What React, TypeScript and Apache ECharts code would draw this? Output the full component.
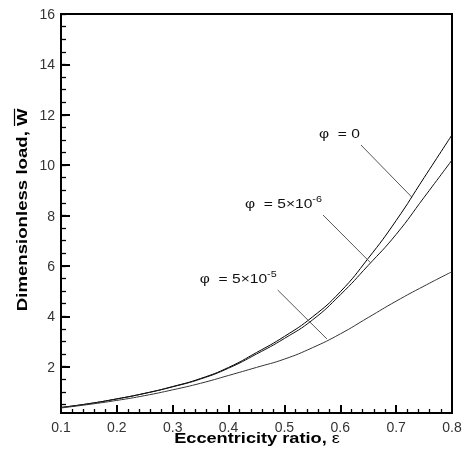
import React, { useEffect, useRef } from 'react';
import * as echarts from 'echarts';

// ---- data ----
const epsilon = [0.1, 0.15, 0.2, 0.25, 0.3, 0.35, 0.4, 0.45, 0.5, 0.55, 0.6, 0.65, 0.7, 0.75, 0.8];
const loadPhi0 = [0.38, 0.53, 0.72, 0.94, 1.21, 1.53, 1.97, 2.56, 3.2, 3.97, 4.97, 6.3, 7.8, 9.5, 11.2];
const loadPhi5e6 = [0.38, 0.53, 0.72, 0.94, 1.2, 1.51, 1.94, 2.5, 3.12, 3.85, 4.85, 6.02, 7.25, 8.72, 10.2];
const loadPhi5e5 = [0.36, 0.5, 0.66, 0.85, 1.08, 1.34, 1.65, 1.97, 2.3, 2.75, 3.3, 3.95, 4.6, 5.2, 5.77];

const yMajorTicks = [2, 4, 6, 8, 10, 12, 14, 16];
const yMinorTicks = [0.5, 1, 1.5, 2, 2.5, 3, 3.5, 4, 4.5, 5, 5.5, 6, 6.5, 7, 7.5, 8, 8.5, 9, 9.5, 10, 10.5, 11, 11.5, 12, 12.5, 13, 13.5, 14, 14.5, 15, 15.5, 16];

// leader lines (data coordinates): [label end, curve end]
const leaderPhi0 = [[0.637, 10.8], [0.728, 8.73]];
const leaderPhi5e6 = [[0.569, 8.02], [0.654, 6.13]];
const leaderPhi5e5 = [[0.488, 5.04], [0.576, 3.1]];

const labelPhi0 = { main: 'φ  = 0', sup: '' };
const labelPhi5e6 = { main: 'φ  = 5×10', sup: '-6' };
const labelPhi5e5 = { main: 'φ  = 5×10', sup: '-5' };

const FONT = '"Liberation Sans", Arial, sans-serif';

export default function App() {
  const ref = useRef<HTMLDivElement>(null);
  useEffect(() => {
    const chart = echarts.init(ref.current!, null, { renderer: 'svg' });
    const pts = (vals: number[]) => epsilon.map((x, i) => [x, vals[i]]);
    const leader = (l: number[][]) => ({
      silent: true,
      symbol: ['none', 'none'],
      label: { show: false },
      lineStyle: { color: '#555', width: 1, type: 'solid' },
      data: [[{ coord: l[0] }, { coord: l[1] }]],
    });
    const lineSeries = (name: string, vals: number[], color: string, l: number[][]) => ({
      name,
      type: 'line',
      data: pts(vals),
      smooth: true,
      showSymbol: false,
      symbol: 'none',
      lineStyle: { color, width: 1 },
      markLine: leader(l),
      z: 3,
    });

    chart.setOption({
      animation: false,
      textStyle: { fontFamily: FONT },
      grid: { left: 61, right: 16, top: 14, bottom: 42, show: true, borderColor: '#000', borderWidth: 2 },
      xAxis: {
        type: 'value',
        min: 0.1,
        max: 0.8,
        interval: 0.1,
        axisLine: { show: true, lineStyle: { color: '#000', width: 2 } },
        axisTick: { show: true, inside: true, length: 8, lineStyle: { color: '#000', width: 2 } },
        minorTick: { show: true, splitNumber: 5, length: 4, lineStyle: { color: '#000', width: 1.3 } },
        axisLabel: {
          color: '#333',
          fontSize: 14,
          margin: 7,
          formatter: (v: number) => v.toFixed(1),
        },
        splitLine: { show: false },
      },
      yAxis: [
        {
          type: 'value',
          min: 0.16,
          max: 16,
          position: 'left',
          axisLine: { show: true, lineStyle: { color: '#000', width: 2 } },
          axisTick: { show: true, inside: true, length: 9, customValues: yMajorTicks, lineStyle: { color: '#000', width: 2 } },
          axisLabel: { color: '#333', fontSize: 14, margin: 6, customValues: yMajorTicks },
          splitLine: { show: false },
        },
        {
          type: 'value',
          min: 0.16,
          max: 16,
          position: 'left',
          axisLine: { show: false },
          axisTick: { show: true, inside: true, length: 5, customValues: yMinorTicks, lineStyle: { color: '#000', width: 1.3 } },
          axisLabel: { show: false },
          splitLine: { show: false },
        },
      ],
      series: [
        lineSeries('φ = 0', loadPhi0, '#000', leaderPhi0),
        lineSeries('φ = 5×10-6', loadPhi5e6, '#111', leaderPhi5e6),
        lineSeries('φ = 5×10-5', loadPhi5e5, '#333', leaderPhi5e5),
      ],
    });

    const toPx = (c: number[]) => chart.convertToPixel({ gridIndex: 0 }, c) as number[];
    const annot = (l: number[][], lab: { main: string; sup: string }) => {
      const p = toPx(l[0]);
      return {
        type: 'text',
        x: p[0] - 1,
        y: p[1] - 3,
        scaleX: 1.2,
        style: {
          text: lab.sup ? `{n|${lab.main}}{s|${lab.sup}}` : `{n|${lab.main}}`,
          align: 'right',
          verticalAlign: 'bottom',
          rich: {
            n: { fontSize: 13, lineHeight: 18, fontFamily: FONT, fill: '#111', verticalAlign: 'middle' },
            s: { fontSize: 9, lineHeight: 9, fontFamily: FONT, fill: '#111', verticalAlign: 'top' },
          },
        },
        silent: true,
      };
    };

    chart.setOption({
      graphic: [
        annot(leaderPhi0, labelPhi0),
        annot(leaderPhi5e6, labelPhi5e6),
        annot(leaderPhi5e5, labelPhi5e5),
        // x-axis title
        {
          type: 'text',
          x: 257,
          y: 438,
          scaleX: 1.3,
          style: {
            text: '{b|Eccentricity ratio, }{e|ε}',
            align: 'center',
            verticalAlign: 'middle',
            rich: {
              b: { fontSize: 14, fontWeight: 'bold', fontFamily: FONT, fill: '#000' },
              e: { fontSize: 14, fontFamily: FONT, fill: '#000' },
            },
          },
          silent: true,
        },
        // y-axis title with overlined W
        {
          type: 'group',
          x: 22,
          y: 126,
          rotation: Math.PI / 2,
          scaleX: 1.33,
          children: [
            {
              type: 'text',
              x: 0,
              y: 0,
              style: {
                text: 'Dimensionless load, ',
                align: 'right',
                verticalAlign: 'middle',
                fontSize: 14,
                fontWeight: 'bold',
                fontFamily: FONT,
                fill: '#000',
              },
            },
            {
              type: 'text',
              x: 0,
              y: 0,
              style: {
                text: 'W',
                align: 'left',
                verticalAlign: 'middle',
                fontSize: 14,
                fontWeight: 'bold',
                fontFamily: FONT,
                fill: '#000',
              },
            },
            {
              type: 'line',
              shape: { x1: 0, y1: -7.5, x2: 13, y2: -7.5 },
              style: { stroke: '#000', lineWidth: 1.2 },
            },
          ],
          silent: true,
        },
      ],
    });

    return () => chart.dispose();
  }, []);
  return <div ref={ref} style={{ position: 'fixed', left: 0, top: 0, width: 468, height: 455 }} />;
}
